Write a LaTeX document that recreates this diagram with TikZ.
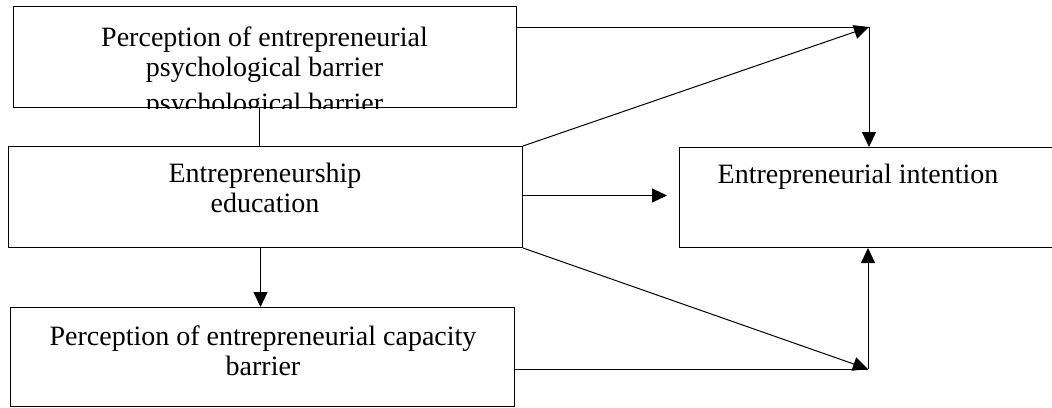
\documentclass[tikz,border=0pt]{standalone}
\usepackage{fontspec}
\setmainfont{Liberation Serif}
\usetikzlibrary{arrows.meta,positioning}
\begin{document}
\begin{tikzpicture}[x=1pt,y=-1pt,
  box/.style={draw, line width=1pt, inner sep=0pt, anchor=north west},
  boxtext/.style={font=\fontsize{28}{30}\selectfont, align=center, anchor=base, inner sep=0pt},
  link/.style={line width=1pt},
  arr/.style={line width=1pt, -{Triangle[length=15pt,width=14pt]}}]

\useasboundingbox (0,0) rectangle (1052,407);
\clip (0,0) rectangle (1052,407);

% boxes
\node[box, minimum width=503pt, minimum height=101pt] (psy) at (13,6) {};
\node[box, minimum width=514pt, minimum height=101pt] (edu) at (8,146) {};
\node[box, minimum width=504pt, minimum height=99pt] (cap) at (10,307) {};
\node[box, minimum width=400pt, minimum height=100pt] (int) at (679,147) {};

% texts (base = last line)
\node[boxtext] (psytext) at (264.5,76) {Perception of entrepreneurial\\psychological barrier};
\begin{scope}
\clip (psy.north west) rectangle (psy.south east);
\node[boxtext] (psyclip) at (264.5,112) {psychological barrier};
\end{scope}
\node[boxtext] (edutext) at (265,212) {Entrepreneurship\\education};
\node[boxtext] (captext) at (263,375) {Perception of entrepreneurial capacity\\barrier};
\node[boxtext] (inttext) at (858,183) {Entrepreneurial intention};

% junctions
\coordinate (jt) at (869,27);
\coordinate (jb) at (868,369);

\draw[link] ([xshift=-5.5pt]psy.south) -- ([xshift=-5.5pt]psy.south |- edu.north);
\draw[arr] ([xshift=-5pt]edu.south) -- ([xshift=-5pt]edu.south |- cap.north);

\draw[link] (psy.east |- jt) -- (jt);
\draw[arr] (edu.north east) -- (jt);
\draw[arr] (jt) -- (jt |- int.north);

\draw[arr] ([yshift=1.5pt]edu.east) -- ([xshift=-12pt,yshift=1.5pt]edu.east -| int.west);

\draw[link] (cap.east |- jb) -- (jb);
\draw[arr] (edu.south east) -- (jb);
\draw[arr] (jb) -- (jb |- int.south);

\end{tikzpicture}
\end{document}
